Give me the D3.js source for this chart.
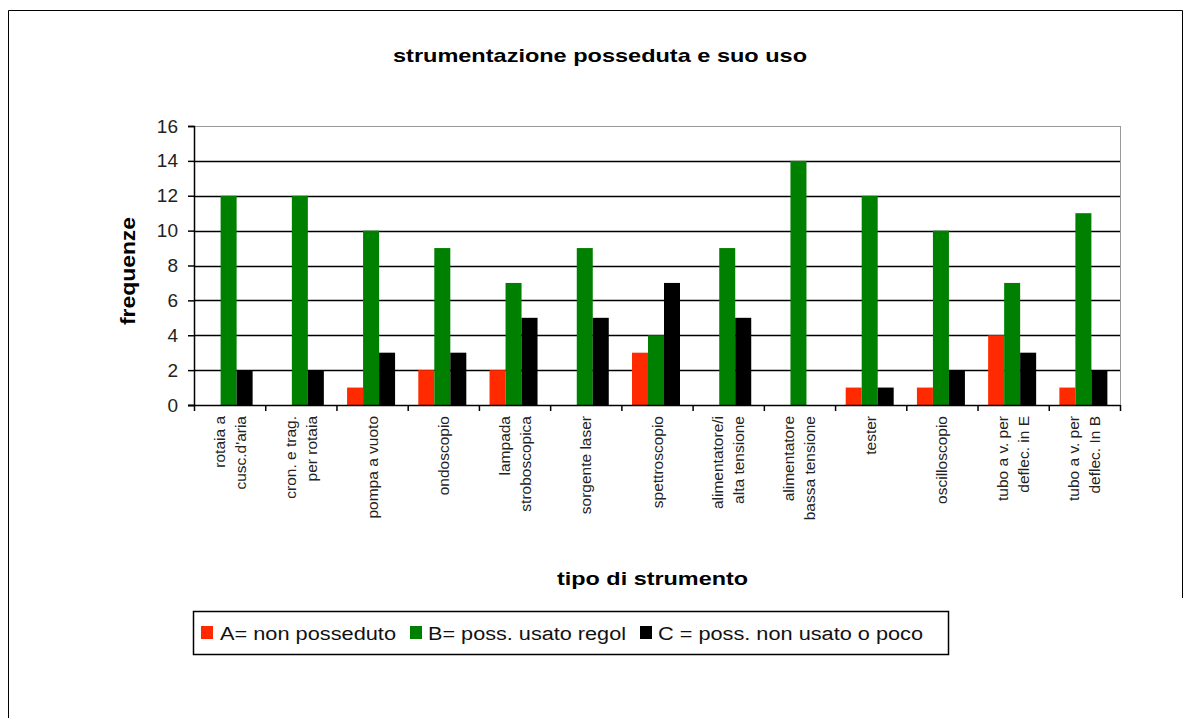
<!DOCTYPE html>
<html>
<head>
<meta charset="utf-8">
<script src="https://cdn.jsdelivr.net/npm/d3@7"></script>
<style>
  body { margin: 0; background: #fff; }
  text { font-family: "Liberation Sans", Arial, sans-serif; }
</style>
</head>
<body>
<svg id="chart" width="1190" height="718"></svg>
<script>
// categories (label lines)
const categories = [
  ["rotaia a", "cusc.d'aria"],
  ["cron. e trag.", "per rotaia"],
  ["pompa a vuoto"],
  ["ondoscopio"],
  ["lampada", "stroboscopica"],
  ["sorgente laser"],
  ["spettroscopio"],
  ["alimentatore/i", "alta tensione"],
  ["alimentatore", "bassa tensione"],
  ["tester"],
  ["oscilloscopio"],
  ["tubo a v. per", "deflec. in E"],
  ["tubo a v. per", "deflec. In B"]
];

// series values
const seriesA = [0, 0, 1, 2, 2, 0, 3, 0, 0, 1, 1, 4, 1];
const seriesB = [12, 12, 10, 9, 7, 9, 4, 9, 14, 12, 10, 7, 11];
const seriesC = [2, 2, 3, 3, 5, 5, 7, 5, 0, 1, 2, 3, 2];

const seriesNames = ["A= non posseduto", "B= poss. usato regol", "C = poss. non usato o poco"];
const seriesColors = ["#ff2a00", "#008000", "#000000"];
const yTicks = [0, 2, 4, 6, 8, 10, 12, 14, 16];

//#region layout
const plotLeft = 194, plotRight = 1120, plotTop = 126, plotBottom = 405;
const svg = d3.select('#chart');

// outer frame (bottom is cut off in the picture)
svg.append('path')
  .attr('d', 'M8.5,718 V10.5 H1182.5 V598')
  .attr('fill', 'none')
  .attr('stroke', '#000')
  .attr('stroke-width', 1);
//#endregion

const catIdx = categories.map((d, i) => i);
const x0 = d3.scaleBand().domain(catIdx).range([plotLeft, plotRight]);
const x1 = d3.scaleBand().domain([0, 1, 2]).range([0, 48]);
const y = d3.scaleLinear().domain([0, 16]).range([plotBottom, plotTop]);

// gridlines
svg.append('g').selectAll('line')
  .data(yTicks.filter(t => t > 0))
  .join('line')
    .attr('x1', plotLeft).attr('x2', plotRight)
    .attr('y1', d => Math.round(y(d)) + 0.5).attr('y2', d => Math.round(y(d)) + 0.5)
    .attr('stroke', d => d === 16 ? '#999' : '#000')
    .attr('stroke-width', d => d === 16 ? 1 : 1.5);

// right border of plot area
svg.append('line')
  .attr('x1', plotRight + 0.5).attr('x2', plotRight + 0.5)
  .attr('y1', plotTop).attr('y2', plotBottom)
  .attr('stroke', '#999');

// bars
const groupOffset = (x0.bandwidth() - 48) / 2 - 1;
const allSeries = [seriesA, seriesB, seriesC];
const bars = svg.append('g');
allSeries.forEach((vals, s) => {
  bars.selectAll('.bar' + s)
    .data(vals)
    .join('rect')
      .attr('class', 'bar' + s)
      .attr('x', (d, i) => x0(i) + groupOffset + x1(s))
      .attr('width', x1.bandwidth())
      .attr('y', d => y(d))
      .attr('height', d => y(0) - y(d))
      .attr('fill', seriesColors[s]);
});

// y axis
const yAxis = svg.append('g')
  .attr('transform', `translate(${plotLeft},0)`)
  .call(d3.axisLeft(y).tickValues(yTicks).tickSize(6).tickPadding(10));
yAxis.select('.domain').attr('stroke', '#000').attr('stroke-width', 1.5);
yAxis.selectAll('.tick line').attr('stroke', '#000').attr('stroke-width', 1.5);
yAxis.selectAll('.tick text')
  .attr('font-size', 19)
  .attr('font-family', '"Liberation Sans", Arial, sans-serif')
  .attr('fill', '#222');

// x axis: line + ticks at category boundaries
const xAxisG = svg.append('g');
xAxisG.append('line')
  .attr('x1', plotLeft - 6).attr('x2', plotRight)
  .attr('y1', plotBottom + 0.5).attr('y2', plotBottom + 0.5)
  .attr('stroke', '#000').attr('stroke-width', 1.5);
xAxisG.selectAll('.xt')
  .data(catIdx.concat([categories.length]))
  .join('line')
    .attr('class', 'xt')
    .attr('x1', d => (d < categories.length ? x0(d) : plotRight) + 0.5)
    .attr('x2', d => (d < categories.length ? x0(d) : plotRight) + 0.5)
    .attr('y1', plotBottom).attr('y2', plotBottom + 6)
    .attr('stroke', '#000').attr('stroke-width', 1.5);

// category labels, rotated
const lineGap = 21;
categories.forEach((lines, i) => {
  const cx = x0(i) + x0.bandwidth() / 2;
  lines.forEach((txt, k) => {
    const off = (k - (lines.length - 1) / 2) * lineGap;
    svg.append('text')
      .attr('transform', `translate(${cx + off},${plotBottom + 11}) rotate(-90)`)
      .attr('text-anchor', 'end')
      .attr('dominant-baseline', 'central')
      .attr('font-size', 15.5)
      .attr('fill', '#222')
      .text(txt);
  });
});

// titles
svg.append('text')
  .attr('x', 393).attr('y', 62)
  .attr('font-size', 19).attr('font-weight', 'bold')
  .attr('textLength', 414).attr('lengthAdjust', 'spacingAndGlyphs')
  .text('strumentazione posseduta e suo uso');

svg.append('text')
  .attr('x', 557).attr('y', 585)
  .attr('font-size', 19).attr('font-weight', 'bold')
  .attr('textLength', 191).attr('lengthAdjust', 'spacingAndGlyphs')
  .text('tipo di strumento');

svg.append('text')
  .attr('transform', 'translate(135,325) rotate(-90)')
  .attr('font-size', 20).attr('font-weight', 'bold')
  .attr('textLength', 108).attr('lengthAdjust', 'spacingAndGlyphs')
  .text('frequenze');

// legend
const legend = svg.append('g');
legend.append('rect')
  .attr('x', 193.5).attr('y', 611.5).attr('width', 755).attr('height', 43)
  .attr('fill', '#fff').attr('stroke', '#000').attr('stroke-width', 1.5);
const legSquareX = [201, 410, 640];
const legTextX = [220, 428, 658];
const legTextW = [176, 198, 265];
seriesNames.forEach((name, s) => {
  legend.append('rect')
    .attr('x', legSquareX[s]).attr('y', 626)
    .attr('width', 12).attr('height', 13)
    .attr('fill', seriesColors[s]);
  legend.append('text')
    .attr('x', legTextX[s]).attr('y', 640)
    .attr('font-size', 18)
    .attr('fill', '#111')
    .attr('textLength', legTextW[s]).attr('lengthAdjust', 'spacingAndGlyphs')
    .text(name);
});
</script>
</body>
</html>
